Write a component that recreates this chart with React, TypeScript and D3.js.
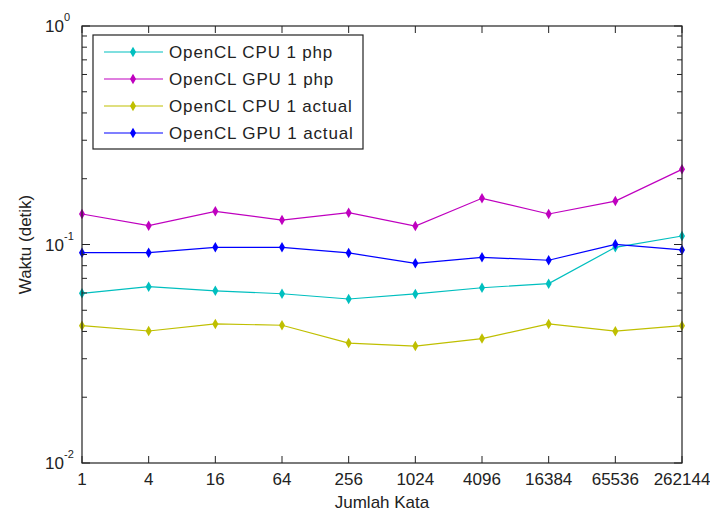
import React from 'react';
import * as d3 from 'd3';

// jumlah kata (x categories)
const kata = ['1', '4', '16', '64', '256', '1024', '4096', '16384', '65536', '262144'];

// waktu (detik) per series
const cpuPhp = [0.0598, 0.0641, 0.0614, 0.0595, 0.0563, 0.0594, 0.0634, 0.0662, 0.0971, 0.1094];
const gpuPhp = [0.1379, 0.1219, 0.1419, 0.1294, 0.1398, 0.1215, 0.1627, 0.1379, 0.158, 0.2208];
const cpuActual = [0.0425, 0.0402, 0.0433, 0.0427, 0.0354, 0.0343, 0.0371, 0.0433, 0.0401, 0.0425];
const gpuActual = [0.0917, 0.0917, 0.0971, 0.0971, 0.0915, 0.082, 0.0874, 0.0847, 0.1002, 0.0944];

const seriesNames = ['OpenCL CPU 1 php', 'OpenCL GPU 1 php', 'OpenCL CPU 1 actual', 'OpenCL GPU 1 actual'];
const seriesColors = ['#00BFBF', '#BF00BF', '#BFBF00', '#0000FF'];
const seriesValues = [cpuPhp, gpuPhp, cpuActual, gpuActual];

const majorTicks = [0.01, 0.1, 1];
const tickExponents = ['-2', '-1', '0'];

const W = 710;
const H = 513;
const margin = { top: 26, right: 28, bottom: 50, left: 82 };
const FONT = 'Arial, "Liberation Sans", Helvetica, sans-serif';

const App: React.FC = () => {
    const x = d3.scalePoint<string>().domain(kata).range([margin.left, W - margin.right]);
    const y = d3.scaleLog().domain([0.01, 1]).range([H - margin.bottom, margin.top]);

    const x0 = margin.left;
    const x1 = W - margin.right;
    const y0 = H - margin.bottom;
    const y1 = margin.top;

    // minor ticks 2..9 per decade
    const minorTicks: number[] = [];
    for (let e = -2; e < 0; e++) {
        for (let m = 2; m <= 9; m++) minorTicks.push(m * Math.pow(10, e));
    }

    const line = d3
        .line<number>()
        .x((_, i) => x(kata[i]) as number)
        .y((d) => y(d));

    const diamond = d3.symbol().type(d3.symbolDiamond).size(32)();

    // legend layout
    const lg = { x: 93, y: 35, w: 270, h: 114 };
    const rowY = (i: number) => lg.y + 17 + i * 27;

    return (
        <svg
            width={W}
            height={H}
            style={{ position: 'absolute', left: 0, top: 0, background: '#fff' }}
            fontFamily={FONT}
        >
            <rect x={0} y={0} width={W} height={H} fill="#fff" />

            {/* series */}
            {seriesValues.map((vals, s) => (
                <g key={seriesNames[s]}>
                    <path d={line(vals) || ''} fill="none" stroke={seriesColors[s]} strokeWidth={1.2} />
                    {vals.map((v, i) => (
                        <path
                            key={i}
                            d={diamond || ''}
                            transform={`translate(${x(kata[i])},${y(v)})`}
                            fill={seriesColors[s]}
                        />
                    ))}
                </g>
            ))}

            {/* x ticks */}
            {kata.map((k) => (
                <g key={k}>
                    <line x1={x(k)} x2={x(k)} y1={y0} y2={y0 - 7} stroke="#222" />
                    <line x1={x(k)} x2={x(k)} y1={y1} y2={y1 + 7} stroke="#222" />
                    <text x={x(k)} y={y0 + 22} textAnchor="middle" fontSize={17} fill="#222">
                        {k}
                    </text>
                </g>
            ))}

            {/* y minor ticks */}
            {minorTicks.map((t) => (
                <g key={t}>
                    <line x1={x0} x2={x0 + 5} y1={y(t)} y2={y(t)} stroke="#222" />
                    <line x1={x1} x2={x1 - 5} y1={y(t)} y2={y(t)} stroke="#222" />
                </g>
            ))}

            {/* y major ticks */}
            {majorTicks.map((t, i) => (
                <g key={t}>
                    <line x1={x0} x2={x0 + 8} y1={y(t)} y2={y(t)} stroke="#222" />
                    <line x1={x1} x2={x1 - 8} y1={y(t)} y2={y(t)} stroke="#222" />
                    <text x={45} y={y(t) + 6} fontSize={17} fill="#222">
                        10
                    </text>
                    <text x={64} y={y(t) - 5} fontSize={11} fill="#222">
                        {tickExponents[i]}
                    </text>
                </g>
            ))}

            {/* axes box */}
            <rect x={x0} y={y1} width={x1 - x0} height={y0 - y1} fill="none" stroke="#222" strokeWidth={1.2} />

            {/* axis labels */}
            <text x={(x0 + x1) / 2} y={H - 5} textAnchor="middle" fontSize={17} fill="#222">
                Jumlah Kata
            </text>
            <text
                transform={`translate(31,${(y0 + y1) / 2}) rotate(-90)`}
                textAnchor="middle"
                fontSize={17}
                fill="#222"
            >
                Waktu (detik)
            </text>

            {/* legend */}
            <rect x={lg.x} y={lg.y} width={lg.w} height={lg.h} fill="#fff" stroke="#222" strokeWidth={1.2} />
            {seriesNames.map((name, i) => (
                <g key={name}>
                    <line x1={104} x2={163} y1={rowY(i)} y2={rowY(i)} stroke={seriesColors[i]} strokeWidth={1.2} />
                    <path d={diamond || ''} transform={`translate(133,${rowY(i)})`} fill={seriesColors[i]} />
                    <text x={169} y={rowY(i) + 6} fontSize={17} letterSpacing={0.85} fill="#222">
                        {name}
                    </text>
                </g>
            ))}
        </svg>
    );
};

export default App;
